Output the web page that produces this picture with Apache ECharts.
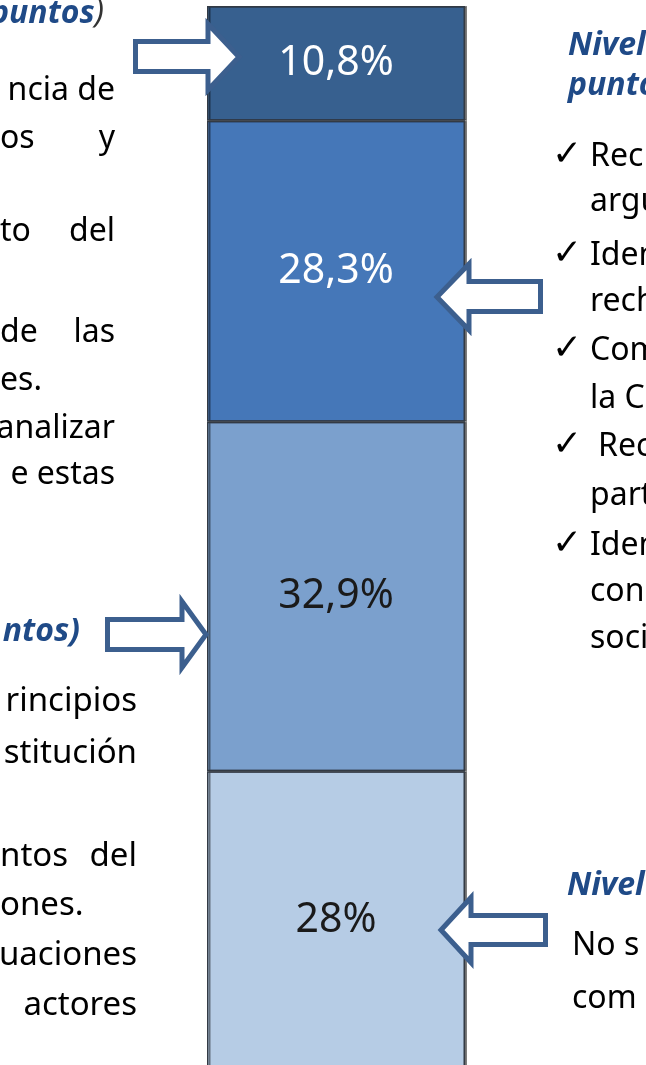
<!DOCTYPE html>
<html>
<head>
<meta charset="utf-8">
<script src="https://cdn.jsdelivr.net/npm/echarts@6/dist/echarts.min.js"></script>
<style>
  html, body { margin: 0; padding: 0; background: #fff; }
  #chart { width: 646px; height: 1065px; }
</style>
</head>
<body>
<div id="chart"></div>
<script>
// niveles, de abajo hacia arriba
const categories = ['Resultados'];
const levelNames = ['Bajo', 'Básico', 'Alto', 'Superior'];
const levelValues = [28, 32.9, 28.3, 10.8];

const levelColors = ['#b6cce5', '#7ba0cd', '#4577b8', '#37608f'];
const labelColors = ['#1a1a1a', '#1a1a1a', '#ffffff', '#ffffff'];

const BODY = '32px "Noto Sans"';
const BODY_B = '33px "Noto Sans"';
const HEAD = 'italic bold 32px "Noto Sans"';
const CHECK = '36px "DejaVu Sans"';
const BLUE = '#1f4a87';
const INK = '#000000';
const ARROW = '#3c5f8e';

// texto lateral (recortado en la imagen original): [texto, x, linea base, alineacion, fuente]
const sideTexts = [
  ['ncia de', 115, 102, 'right', BODY],
  ['os', 0, 150, 'left', BODY], ['y', 115, 150, 'right', BODY],
  ['to', 0, 243, 'left', BODY], ['del', 115, 243, 'right', BODY],
  ['de', 0, 344, 'left', BODY], ['las', 115, 344, 'right', BODY],
  ['es.', 0, 392, 'left', BODY],
  ['analizar', 115, 440, 'right', BODY],
  ['e estas', 115, 486, 'right', BODY],
  ['rincipios', 137, 713, 'right', BODY_B],
  ['stitución', 137, 765, 'right', BODY_B],
  ['ntos', 0, 868, 'left', BODY_B], ['del', 137, 868, 'right', BODY_B],
  ['ones.', 0, 917, 'left', BODY_B],
  ['uaciones', 137, 967, 'right', BODY_B],
  ['actores', 137, 1017, 'right', BODY_B],
  ['ntos)', 80, 643, 'right', HEAD, BLUE],
  ['Nivel', 568, 57, 'left', HEAD, BLUE],
  ['puntos', 568, 97, 'left', HEAD, BLUE],
  ['Rec', 590, 168, 'left', BODY],
  ['argu', 590, 213, 'left', BODY],
  ['Iden', 590, 267, 'left', BODY],
  ['rech', 590, 313, 'left', BODY],
  ['Com', 590, 362, 'left', BODY],
  ['la C', 590, 410, 'left', BODY],
  ['Rec', 598, 458, 'left', BODY],
  ['part', 590, 507, 'left', BODY],
  ['Iden', 590, 557, 'left', BODY],
  ['con', 590, 603, 'left', BODY],
  ['soci', 590, 650, 'left', BODY],
  ['Nivel', 567, 897, 'left', HEAD, BLUE],
  ['No s', 572, 957, 'left', BODY],
  ['com', 572, 1010, 'left', BODY]
];
const checkLines = [168, 267, 362, 458, 557];

function fontSize(font) {
  return parseFloat(font.match(/(\d+)px/)[1]);
}

function textEl(t, x, base, align, font, color) {
  return {
    type: 'text', z: 110,
    style: {
      text: t, x: x, y: base - fontSize(font) * 0.34,
      font: font, fill: color || INK,
      align: align, verticalAlign: 'middle'
    }
  };
}

function arrow(x0, y1, y2, headX, h1, h2, tipX) {
  return {
    type: 'polygon', z: 100,
    shape: {
      points: [[x0, y1], [headX, y1], [headX, h1], [tipX, (h1 + h2) / 2],
               [headX, h2], [headX, y2], [x0, y2]]
    },
    style: { fill: '#ffffff', stroke: ARROW, lineWidth: 5, lineJoin: 'miter' }
  };
}

const chart = echarts.init(document.getElementById('chart'));

const graphics = [
  arrow(135.5, 41.5, 71.5, 208, 24, 90, 239),
  arrow(540.5, 281.5, 311.5, 469, 264, 330, 437),
  arrow(107.5, 619.5, 649.5, 182, 601.5, 667.5, 206),
  arrow(545.5, 915.5, 944.5, 471, 897.5, 962.5, 441),
  {
    type: 'text', z: 110,
    style: {
      text: '{h|puntos}{p|)}', x: 104, y: 25 - 32 * 0.34,
      align: 'right', verticalAlign: 'middle',
      rich: {
        h: { font: HEAD, fill: BLUE },
        p: { font: 'italic 32px "Noto Sans"', fill: '#333333' }
      }
    }
  }
];
sideTexts.forEach(function (d) {
  graphics.push(textEl(d[0], d[1], d[2], d[3], d[4], d[5]));
});
checkLines.forEach(function (b) {
  graphics.push(textEl('\u2713', 552, b, 'left', CHECK));
});

const series = levelValues.map(function (v, i) {
  return {
    name: levelNames[i],
    type: 'bar',
    stack: 'total',
    barWidth: '100%',
    data: [v],
    itemStyle: {
      color: levelColors[i],
      borderColor: '#333a44',
      borderWidth: 1.5,
      shadowColor: 'rgba(0,0,0,0.45)',
      shadowOffsetX: 2,
      shadowBlur: 0
    },
    label: {
      show: true,
      position: 'inside',
      color: labelColors[i],
      fontFamily: 'Noto Sans',
      fontSize: 41,
      formatter: function (p) {
        return String(p.value).replace('.', ',') + '%';
      }
    }
  };
});

chart.setOption({
  animation: false,
  grid: { left: 207, width: 258, top: 6, height: 1063, outerBoundsMode: 'none' },
  xAxis: { type: 'category', data: categories, show: false },
  yAxis: { type: 'value', min: 0, max: 100, show: false },
  series: series,
  graphic: graphics
});
</script>
</body>
</html>
